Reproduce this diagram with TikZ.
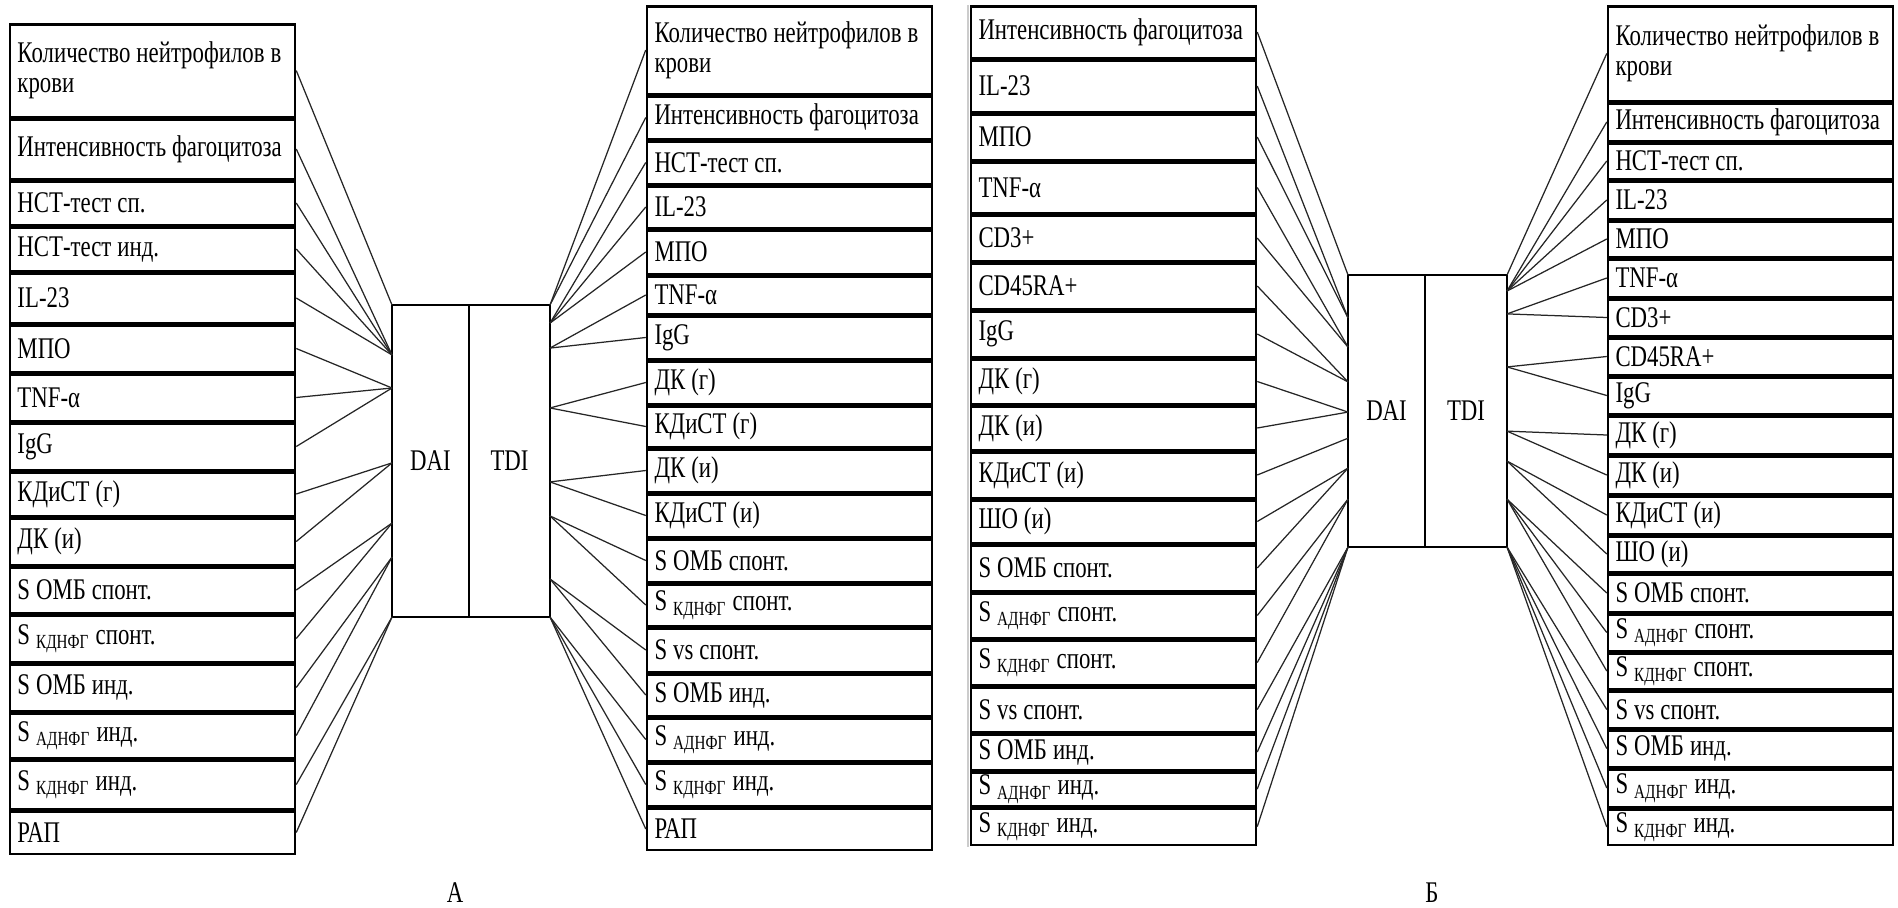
\documentclass[tikz,border=0pt]{standalone}
\usepackage{fontspec}
\setmainfont{Liberation Serif}[FakeStretch=0.76]
\usetikzlibrary{positioning, calc}

\begin{document}
\begin{tikzpicture}[x=0.4pt, y=-0.4pt,
    cell/.style={rectangle, draw=black, line width=1pt, minimum width=114pt, text width=108pt, inner xsep=3pt, inner ysep=1pt, align=left, font=\fontsize{12}{12}\selectfont, execute at begin node={\spaceskip=0.2em\relax}},
    scorebox/.style={rectangle, draw=black, line width=1pt, inner sep=0pt, outer sep=0pt, font=\fontsize{12}{12}\selectfont},
    link/.style={line width=0.5pt, color=black!85},
    panelname/.style={font=\fontsize{12}{12}\selectfont}
]
\useasboundingbox (0,0) rectangle (1898,907);

% panel A
\coordinate (la0) at (152.5,23);
\foreach \txt/\h [count=\i, remember=\i as \j (initially 0)] in {
    Количество нейтрофилов в\\крови/95, Интенсивность фагоцитоза/62, НСТ-тест сп./46, НСТ-тест инд./46,
    IL-23/52, МПО/49, TNF-α/49, IgG/49, КДиСТ (г)/46, ДК (и)/49, S ОМБ спонт./48,
    S \textsubscript{КДНФГ} спонт./49, S ОМБ инд./49, S \textsubscript{АДНФГ} инд./47,
    S \textsubscript{КДНФГ} инд./51, РАП/45}
  \node[cell, minimum height=\h*0.4pt-1pt, below=0pt of la\j] (la\i) {\txt};

\node[scorebox, minimum width=30.8pt, minimum height=124.8pt, anchor=north west] (daiA) at (392,305) {DAI};
\node[scorebox, minimum width=32.4pt, minimum height=124.8pt, right=0pt of daiA] (tdiA) {TDI};

\coordinate (ra0) at (789.5,5);
\foreach \txt/\h [count=\i, remember=\i as \j (initially 0)] in {
    Количество нейтрофилов в\\крови/90, Интенсивность фагоцитоза/45, НСТ-тест сп./45, IL-23/44,
    МПО/46, TNF-α/40, IgG/45, ДК (г)/45, КДиСТ (г)/43, ДК (и)/45, КДиСТ (и)/45,
    S ОМБ спонт./45, S \textsubscript{КДНФГ} спонт./44, S vs спонт./46, S ОМБ инд./44,
    S \textsubscript{АДНФГ} инд./45, S \textsubscript{КДНФГ} инд./45, РАП/44}
  \node[cell, minimum height=\h*0.4pt-1pt, below=0pt of ra\j] (ra\i) {\txt};

\foreach \f [count=\k from 0] in {0,0.16,0.266,0.506,0.699,0.808,1}
  \coordinate (pa\k) at ($(daiA.north west)!\f!(daiA.south west)$);
\foreach \f [count=\k from 0] in {0,0.058,0.138,0.33,0.567,0.676,0.878,1}
  \coordinate (qa\k) at ($(tdiA.north east)!\f!(tdiA.south east)$);

\foreach \r/\k in {1/0,2/1,3/1,4/1,5/1,6/2,7/2,8/2,9/3,10/3,11/4,12/4,13/5,14/5,15/6,16/6}
  \draw[link] (la\r.east) -- (pa\k);
\foreach \r/\k in {1/0,2/0,3/1,4/1,5/1,6/2,7/2,8/3,9/3,10/4,11/4,12/5,13/5,14/6,15/6,16/7,17/7,18/7}
  \draw[link] (ra\r.west) -- (qa\k);

\node[panelname] (capA) at (455,893) {А};

\draw[black!20, line width=0.6pt] (968,5) -- (968,847);

% panel B
\coordinate (lb0) at (1113.5,5);
\foreach \txt/\h [count=\i, remember=\i as \j (initially 0)] in {
    Интенсивность фагоцитоза/54, IL-23/54, МПО/48, TNF-α/53, CD3+/48, CD45RA+/48,
    IgG/48, ДК (г)/47, ДК (и)/46, КДиСТ (и)/48, ШО (и)/45, S ОМБ спонт./48,
    S \textsubscript{АДНФГ} спонт./47, S \textsubscript{КДНФГ} спонт./47, S vs спонт./47,
    S ОМБ инд./38, S \textsubscript{АДНФГ} инд./36, S \textsubscript{КДНФГ} инд./39}
  \node[cell, minimum height=\h*0.4pt-1pt, below=0pt of lb\j] (lb\i) {\txt};

\node[scorebox, minimum width=30.8pt, minimum height=108.8pt, anchor=north west] (daiB) at (1348,275) {DAI};
\node[scorebox, minimum width=32.8pt, minimum height=108.8pt, right=0pt of daiB] (tdiB) {TDI};

\coordinate (rb0) at (1750.5,5);
\foreach \txt/\h [count=\i, remember=\i as \j (initially 0)] in {
    Количество нейтрофилов в\\крови/97, Интенсивность фагоцитоза/40, НСТ-тест сп./38, IL-23/40,
    МПО/38, TNF-α/40, CD3+/39, CD45RA+/39, IgG/39, ДК (г)/40, ДК (и)/40, КДиСТ (и)/40,
    ШО (и)/38, S ОМБ спонт./40, S \textsubscript{АДНФГ} спонт./39, S \textsubscript{КДНФГ} спонт./38,
    S vs спонт./39, S ОМБ инд./39, S \textsubscript{АДНФГ} инд./40, S \textsubscript{КДНФГ} инд./38}
  \node[cell, minimum height=\h*0.4pt-1pt, below=0pt of rb\j] (rb\i) {\txt};

\foreach \f [count=\k from 0] in {0,0.158,0.265,0.393,0.504,0.6,0.71,0.824,1}
  \coordinate (pb\k) at ($(daiB.north west)!\f!(daiB.south west)$);
\foreach \f [count=\k from 0] in {0,0.059,0.143,0.338,0.574,0.684,0.824,1}
  \coordinate (qb\k) at ($(tdiB.north east)!\f!(tdiB.south east)$);

\foreach \r/\k in {1/0,2/1,3/1,4/2,5/2,6/3,7/3,8/4,9/4,10/5,11/6,12/6,13/7,14/7,15/8,16/8,17/8,18/8}
  \draw[link] (lb\r.east) -- (pb\k);
\foreach \r/\k in {1/0,2/1,3/1,4/1,5/1,6/2,7/2,8/3,9/3,10/4,11/4,12/5,13/5,14/6,15/6,16/6,17/7,18/7,19/7,20/7}
  \draw[link] (rb\r.west) -- (qb\k);

\node[panelname] (capB) at (1432,893) {Б};
\end{tikzpicture}
\end{document}
